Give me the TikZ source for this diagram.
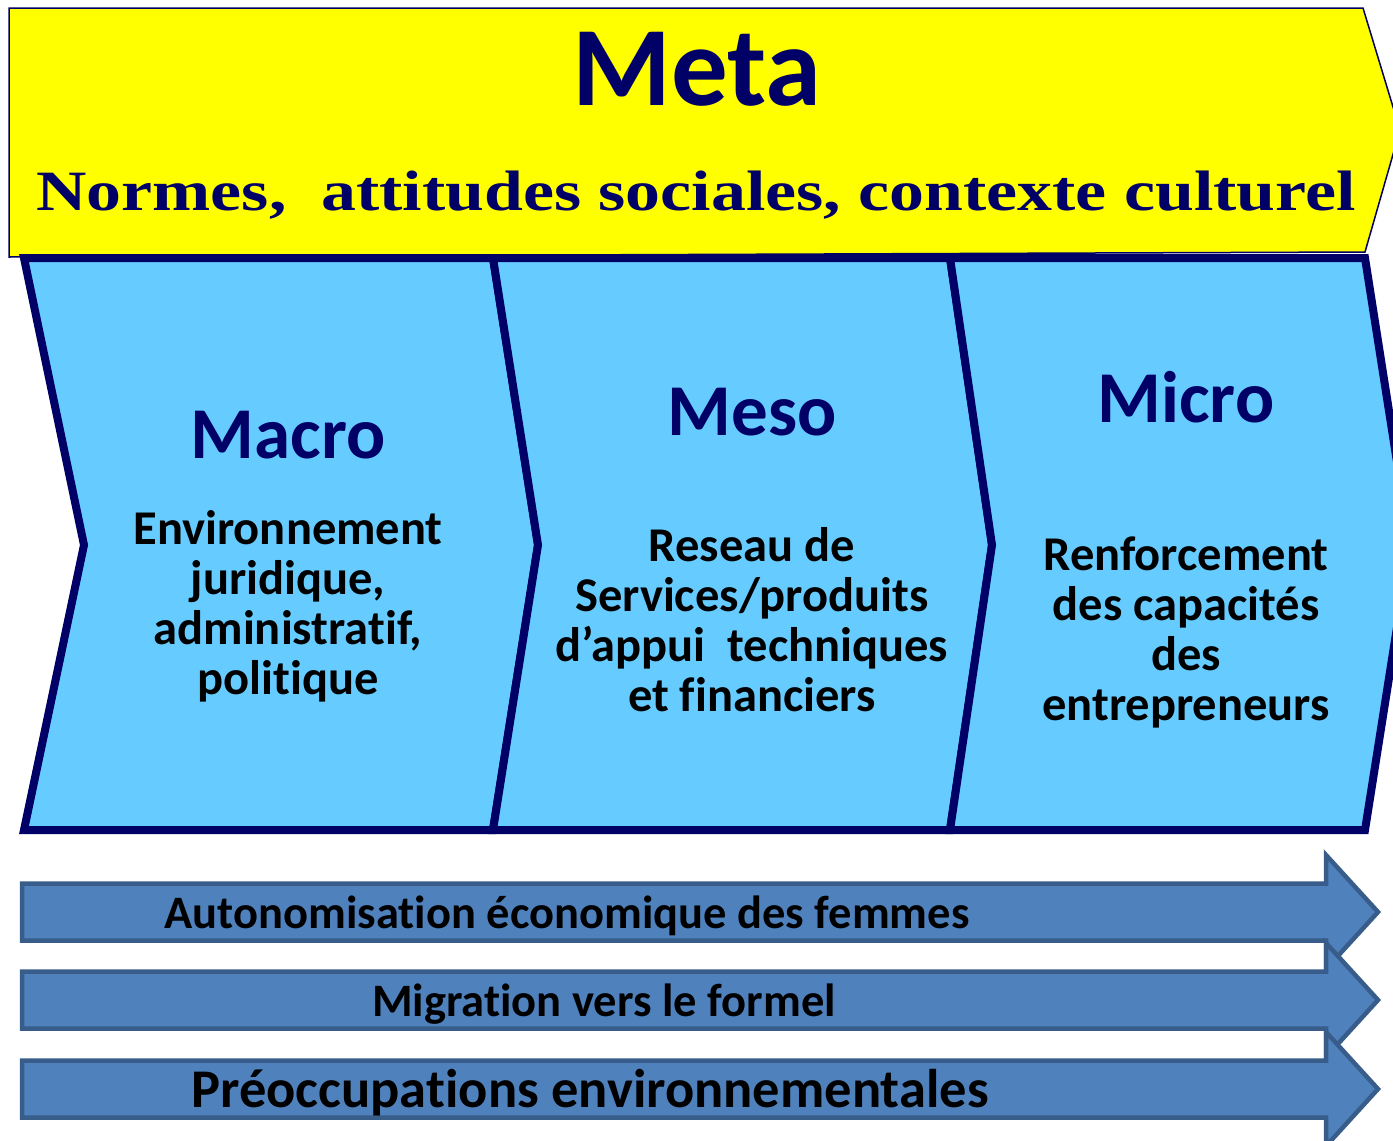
\documentclass[tikz,border=0pt]{standalone}
\usepackage{fontspec}
\setmainfont[Ligatures={NoCommon}]{Carlito}
\newfontfamily\normesfont{Liberation Serif}
\definecolor{navy}{HTML}{000066}
\definecolor{jaune}{HTML}{FFFF00}
\definecolor{ciel}{HTML}{66CCFF}
\definecolor{fleche}{HTML}{4F81BD}
\definecolor{flechebord}{HTML}{385D8A}
\tikzset{
  niveau/.style={fill=ciel, draw=navy, line width=8pt, line join=miter},
  titre/.style={text=navy, anchor=base, font=\fontsize{73}{80}\selectfont\bfseries},
  corps/.style={align=center, font=\fontsize{48.5}{50}\selectfont\bfseries},
  bande/.style={fill=fleche, draw=flechebord, line width=4.5pt},
}
\begin{document}
\begin{tikzpicture}[x=1pt, y=-1pt]
\useasboundingbox (0,0) rectangle (1393,1141);
% bandeau Meta
\draw[fill=jaune, draw=navy, line width=1.5pt](9,8)--(1363,8)--(1400,130)--(1365,252)--(9,257)--cycle;
\node[text=navy, anchor=base, font=\fontsize{113}{120}\selectfont\bfseries](meta) at (697,105) {Meta};
\node[text=navy, anchor=base, font=\normesfont\fontsize{57}{60}\selectfont\bfseries](normes) at (696,210)
    {\scalebox{1.225}[1]{Normes,\ \ attitudes sociales, contexte culturel}};

% les trois niveaux
\draw[niveau](24,258)--(493,258)--(538,545)--(493,830)--(24,830)--(84,545)--cycle;
\draw[niveau](493,258)--(950,258)--(992,545)--(950,830)--(493,830)--(538,545)--cycle;
\draw[niveau](950,258)--(1365,258)--(1410,545)--(1365,830)--(950,830)--(992,545)--cycle;

\node[titre](macro) at (288,458) {Macro};
\node[corps](macroTxt) at (288,606) {Environnement\\juridique,\\administratif,\\politique};
\node[titre](meso) at (752,435) {Meso};
\node[corps](mesoTxt) at (752,620) {Reseau de\\Services/produits\\d’appui\ \ techniques\\et financiers};
\node[titre](micro) at (1186,422) {Micro};
\node[corps](microTxt) at (1186,632) {Renforcement\\des capacités\\des\\entrepreneurs};

% fleches du bas
\foreach \i/\y/\x/\s/\txt in {1/912/567/46.5/Autonomisation économique des femmes,
                              2/1000/604/46.5/Migration vers le formel,
                              3/1089/590/54.5/Préoccupations environnementales}
{
    \draw[bande](22,\y-28.5)--(1326,\y-28.5)--(1326,\y-57)--(1378,\y)--(1326,\y+57)--(1326,\y+28.5)--(22,\y+28.5)--cycle;
    \node[font=\fontsize{\s}{\s}\selectfont\bfseries](axe\i) at (\x,\y+4) {\txt};
}
\end{tikzpicture}
\end{document}
